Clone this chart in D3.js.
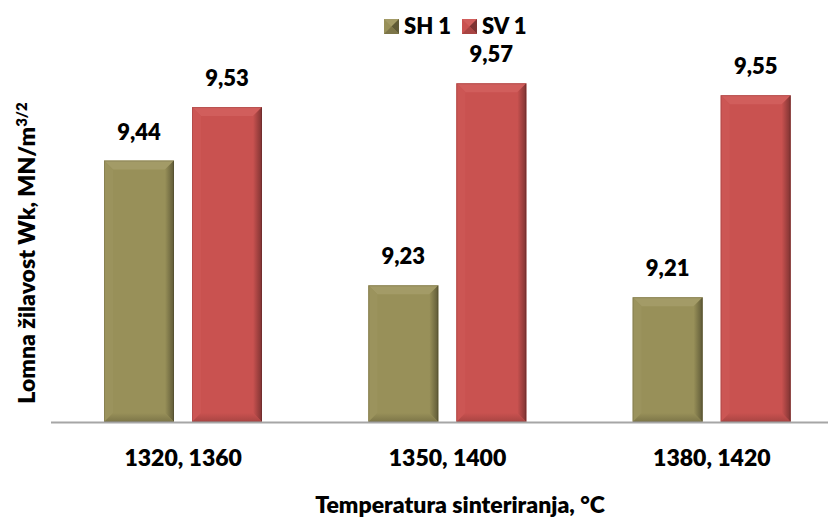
<!DOCTYPE html>
<meta charset="utf-8">
<style>
  body { margin: 0; background: #fff; }
  text { font-family: Lato, "Open Sans", sans-serif; font-weight: 800; fill: #000; }
</style>
<svg width="828" height="522"></svg>
<script src="https://d3js.org/d3.v7.min.js"></script>
<script>

  var categories = ["1320, 1360", "1350, 1400", "1380, 1420"];
  var seriesNames = ["SH 1", "SV 1"];
  var sh1 = [9.44, 9.23, 9.21];
  var sv1 = [9.53, 9.57, 9.55];
  var valueLabels = [["9,44", "9,23", "9,21"], ["9,53", "9,57", "9,55"]];

  var svg = d3.select("svg");

  var palette = [
    {face: "#989059", top: "#a39b67", left: "#9b935d", right: "#5f5a37", bottom: "#7c7548"},
    {face: "#c95250", top: "#d15e5c", left: "#cc5654", right: "#7e3332", bottom: "#a84442"}
  ];

  // horizontal gradient for the right bevel
  var defs = svg.append("defs");
  palette.forEach(function(p, i) {
    var gr = defs.append("linearGradient").attr("id", "rg" + i)
      .attr("x1", "0").attr("x2", "1").attr("y1", "0").attr("y2", "0");
    gr.append("stop").attr("offset", "0").attr("stop-color", p.face);
    gr.append("stop").attr("offset", "1").attr("stop-color", p.right);
    var gb = defs.append("linearGradient").attr("id", "bg" + i)
      .attr("x1", "0").attr("x2", "0").attr("y1", "0").attr("y2", "1");
    gb.append("stop").attr("offset", "0").attr("stop-color", p.face);
    gb.append("stop").attr("offset", "1").attr("stop-color", p.bottom);
  });

  var x = d3.scaleBand().domain(categories).range([51, 844]);
  var xs = d3.scaleBand().domain(seriesNames).range([53, 211]).paddingInner(0.205);
  var y = d3.scaleLinear().domain([9, 9.6]).range([422, 65.5]);

  var data = [];
  [sh1, sv1].forEach(function(arr, si) {
    arr.forEach(function(v, ci) {
      data.push({s: si, c: ci, v: v, label: valueLabels[si][ci]});
    });
  });

  var bars = svg.append("g").selectAll("g").data(data).enter().append("g");

  bars.each(function(d) {
    var g = d3.select(this);
    var x0 = x(categories[d.c]) + xs(seriesNames[d.s]),
        w = xs.bandwidth(),
        y0 = y(d.v),
        y1 = y(9),
        b = 9,
        p = palette[d.s];
    g.append("rect").attr("x", x0).attr("y", y0).attr("width", w).attr("height", y1 - y0).attr("fill", p.face);
    g.append("polygon").attr("fill", p.top)
      .attr("points", [[x0, y0], [x0 + w, y0], [x0 + w - b, y0 + b], [x0 + b, y0 + b]].join(" "));
    g.append("polygon").attr("fill", p.left)
      .attr("points", [[x0, y0], [x0 + b, y0 + b], [x0 + b, y1 - b], [x0, y1]].join(" "));
    g.append("polygon").attr("fill", "url(#rg" + d.s + ")")
      .attr("points", [[x0 + w, y0], [x0 + w, y1], [x0 + w - b, y1 - b], [x0 + w - b, y0 + b]].join(" "));
    g.append("polygon").attr("fill", "url(#bg" + d.s + ")")
      .attr("points", [[x0, y1], [x0 + b, y1 - b], [x0 + w - b, y1 - b], [x0 + w, y1]].join(" "));
    g.append("rect").attr("x", x0 + 0.5).attr("y", y0 + 0.5).attr("width", w - 1).attr("height", y1 - y0 - 1)
      .attr("fill", "none").attr("stroke", "rgba(0,0,0,0.12)");
    g.append("text")
      .attr("x", x0 + w / 2)
      .attr("y", y0 - 21)
      .attr("text-anchor", "middle")
      .style("font-size", "22px")
      .text(d.label);
  });

  // baseline
  svg.append("line")
    .attr("x1", 51).attr("x2", 828)
    .attr("y1", y(9) + 0.5).attr("y2", y(9) + 0.5)
    .attr("stroke", "#a6a6a6").attr("stroke-width", 2);

  // category labels
  svg.append("g").selectAll("text").data(categories).enter().append("text")
    .attr("x", function(d) { return x(d) + x.bandwidth() / 2; })
    .attr("y", 466)
    .attr("text-anchor", "middle")
    .style("font-size", "23px")
    .text(function(d) { return d; });

  svg.append("text")
    .attr("x", 460)
    .attr("y", 513)
    .attr("text-anchor", "middle")
    .style("font-size", "23px")
    .text("Temperatura sinteriranja, °C");

  var yt = svg.append("text")
    .attr("transform", "translate(35,253) rotate(-90)")
    .attr("text-anchor", "middle")
    .style("font-size", "23px");
  yt.append("tspan").text("Lomna žilavost Wk, MN/m");
  yt.append("tspan").attr("dy", "-8").style("font-size", "15px").text("3/2");

  // legend
  var legend = svg.append("g");
  var lx = [384, 462];
  seriesNames.forEach(function(name, i) {
    var p = palette[i], x0 = lx[i], y0 = 19, s = 15;
    legend.append("rect").attr("x", x0).attr("y", y0).attr("width", s).attr("height", s).attr("fill", p.face);
    legend.append("polygon").attr("fill", p.top)
      .attr("points", [[x0, y0], [x0 + s, y0], [x0 + s / 2, y0 + s / 2]].join(" "));
    legend.append("polygon").attr("fill", p.right)
      .attr("points", [[x0 + s, y0], [x0 + s, y0 + s], [x0 + s / 2, y0 + s / 2]].join(" "));
    legend.append("polygon").attr("fill", p.bottom)
      .attr("points", [[x0, y0 + s], [x0 + s, y0 + s], [x0 + s / 2, y0 + s / 2]].join(" "));
    legend.append("text")
      .attr("x", x0 + s + 5)
      .attr("y", 34)
      .style("font-size", "22px")
      .text(name);
  });

</script>
